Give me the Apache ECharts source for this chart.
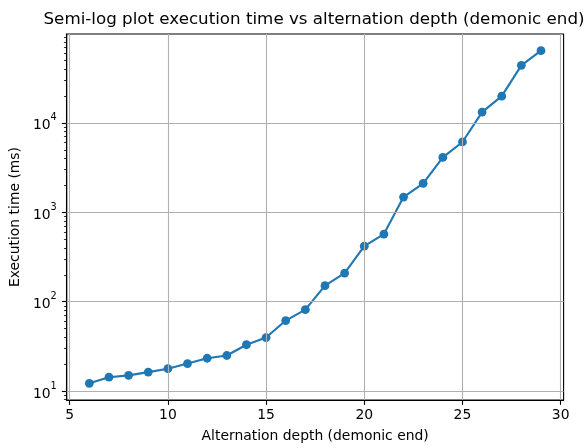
<!DOCTYPE html>
<html>
<head>
<meta charset="utf-8">
<script src="https://cdn.jsdelivr.net/npm/echarts@6/dist/echarts.min.js"></script>
<style>html,body{margin:0;padding:0;background:#fff}#c{width:584px;height:448px}</style>
</head>
<body>
<div id="c"></div>
<script>
const depths = [6,7,8,9,10,11,12,13,14,15,16,17,18,19,20,21,22,23,24,25,26,27,28,29];
const times = [12.2,14.3,15.0,16.3,17.8,20.3,23.3,25.0,33,39.7,61.5,81.5,151,209,418,570,1480,2110,4110,6120,13200,19900,44000,64300];
const xTicks = [5,10,15,20,25,30];
const yTicks = [10,100,1000,10000];
const yMinor = [8,9,20,30,40,50,60,70,80,90,200,300,400,500,600,700,800,900,2000,3000,4000,5000,6000,7000,8000,9000,20000,30000,40000,50000,60000,70000,80000,90000];

const font = 'DejaVu Sans';
const xMin = 4.85, xMax = 30.15;
const lmin = Math.log10(Math.min(...times)), lmax = Math.log10(Math.max(...times));
const lpad = (lmax - lmin) * 0.05;
const yMin = Math.pow(10, lmin - lpad), yMax = Math.pow(10, lmax + lpad);

const chart = echarts.init(document.getElementById('c'), null, {renderer: 'canvas'});
const gridColor = '#b0b0b0';
const supFmt = v => '{b|10}{s|' + Math.round(Math.log10(v)) + '}';

chart.setOption({
  animation: false,
  backgroundColor: '#fff',
  title: {
    text: 'Semi-log plot execution time vs alternation depth (demonic end)',
    left: 309, top: 6, textAlign: 'center',
    textStyle: {fontFamily: font, fontSize: 16.7, fontWeight: 'normal', color: '#000'}
  },
  grid: {left: 66.4, right: 20.4, top: 34, bottom: 43, show: true, borderColor: '#000', borderWidth: 1.1, backgroundColor: 'transparent'},
  xAxis: {
    type: 'value', min: xMin, max: xMax,
    name: 'Alternation depth (demonic end)', nameLocation: 'middle', nameGap: 29,
    nameTextStyle: {fontFamily: font, fontSize: 13.9, color: '#000'},
    axisLine: {show: true, onZero: false, lineStyle: {color: '#000', width: 1.1}},
    axisTick: {show: true, customValues: xTicks, length: 4.9, lineStyle: {color: '#000', width: 1.1}},
    axisLabel: {customValues: xTicks, margin: 8, fontFamily: font, fontSize: 13.9, color: '#000'},
    splitLine: {show: false}
  },
  yAxis: [{
    type: 'log', logBase: 10, min: yMin, max: yMax, position: 'left',
    name: 'Execution time (ms)', nameLocation: 'middle', nameGap: 41,
    nameTextStyle: {fontFamily: font, fontSize: 13.9, color: '#000'},
    axisLine: {show: true, lineStyle: {color: '#000', width: 1.1}},
    axisTick: {show: true, customValues: yTicks, length: 4.9, lineStyle: {color: '#000', width: 1.1}},
    axisLabel: {customValues: yTicks, margin: 10, formatter: supFmt,
      rich: {
        b: {fontFamily: font, fontSize: 13.9, color: '#000', verticalAlign: 'bottom', lineHeight: 20},
        s: {fontFamily: font, fontSize: 9.7, color: '#000', verticalAlign: 'top', lineHeight: 20}
      }},
    splitLine: {show: false}, minorTick: {show: false}
  }, {
    type: 'log', logBase: 10, min: yMin, max: yMax, position: 'left', offset: 0,
    axisLine: {show: false},
    axisTick: {show: true, customValues: yMinor, length: 2.8, lineStyle: {color: '#000', width: 0.8}},
    axisLabel: {show: false},
    splitLine: {show: false}
  }],
  series: [{
    type: 'line', data: [], z: 1, silent: true,
    markLine: {
      silent: true, symbol: 'none', animation: false,
      label: {show: false},
      lineStyle: {color: gridColor, width: 1.1, type: 'solid'},
      data: xTicks.map(v => ({xAxis: v})).concat(yTicks.map(v => ({yAxis: v})))
    }
  }, {
    type: 'line', z: 3,
    data: depths.map((d, i) => [d, times[i]]),
    symbol: 'circle', symbolSize: 8.8,
    lineStyle: {color: '#1f77b4', width: 2.1},
    itemStyle: {color: '#1f77b4', borderWidth: 0}
  }]
});
</script>
</body>
</html>
